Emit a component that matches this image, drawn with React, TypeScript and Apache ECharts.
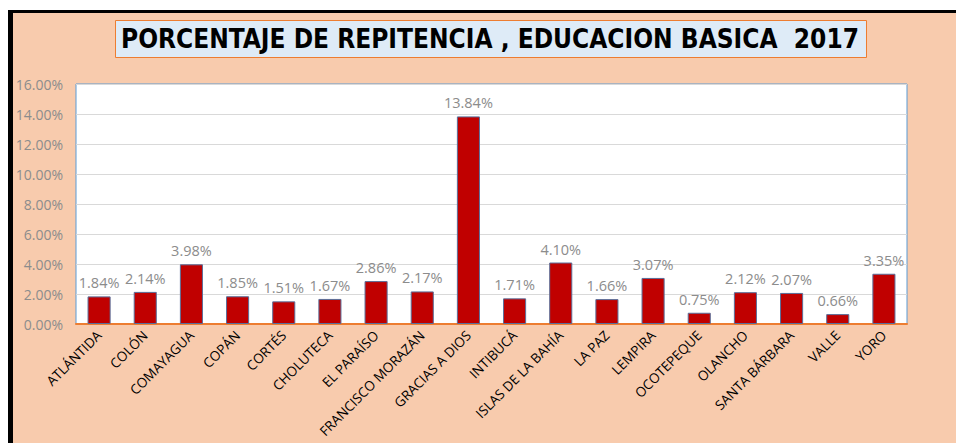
import React, { useEffect, useRef } from "react";
import * as echarts from "echarts";

const categories = [
  "ATLÁNTIDA", "COLÓN", "COMAYAGUA", "COPÁN", "CORTÉS", "CHOLUTECA",
  "EL PARAÍSO", "FRANCISCO MORAZÁN", "GRACIAS A DIOS", "INTIBUCÁ",
  "ISLAS DE LA BAHÍA", "LA PAZ", "LEMPIRA", "OCOTEPEQUE", "OLANCHO",
  "SANTA BÁRBARA", "VALLE", "YORO",
];
const repitencia = [
  1.84, 2.14, 3.98, 1.85, 1.51, 1.67, 2.86, 2.17, 13.84, 1.71, 4.1, 1.66,
  3.07, 0.75, 2.12, 2.07, 0.66, 3.35,
];
const titleText = "PORCENTAJE DE REPITENCIA , EDUCACION BASICA  2017";

export default function App() {
  const ref = useRef<HTMLDivElement>(null);
  useEffect(() => {
    if (!ref.current) return;
    const chart = echarts.init(ref.current, undefined, { renderer: "svg" });
    chart.setOption({
      animation: false,
      backgroundColor: "#f8cbad",
      graphic: [
        { type: "rect", shape: { x: 0, y: 0, width: 956, height: 10 }, style: { fill: "#ffffff" }, silent: true },
        { type: "rect", shape: { x: 0, y: 0, width: 8, height: 443 }, style: { fill: "#ffffff" }, silent: true },
        { type: "rect", shape: { x: 8, y: 10, width: 948, height: 3 }, style: { fill: "#000000" }, silent: true },
        { type: "rect", shape: { x: 8, y: 10, width: 5, height: 433 }, style: { fill: "#000000" }, silent: true },
        {
          type: "rect",
          shape: { x: 115.5, y: 20.5, width: 751, height: 37 },
          style: { fill: "#deebf7", stroke: "#ed7d31", lineWidth: 1 },
          silent: true,
        },
        {
          type: "text",
          x: 490,
          y: 39,
          style: {
            text: titleText,
            fill: "#000000",
            font: "bold 26px 'Liberation Sans Narrow', 'DejaVu Sans Condensed', sans-serif",
            align: "center",
            verticalAlign: "middle",
          },
          silent: true,
        },
      ],
      grid: {
        left: 76,
        right: 49,
        top: 84,
        bottom: 119,
        show: true,
        backgroundColor: "#ffffff",
        borderColor: "#5b9bd5",
        borderWidth: 1,
      },
      xAxis: {
        type: "category",
        data: categories,
        axisLine: { lineStyle: { color: "#ed7d31", width: 2 } },
        axisTick: { show: false },
        axisLabel: {
          rotate: 45,
          interval: 0,
          color: "#000000",
          fontSize: 13.5,
          fontFamily: "'Open Sans', sans-serif",
          margin: 9,
        },
      },
      yAxis: {
        type: "value",
        min: 0,
        max: 16,
        interval: 2,
        axisLine: { show: false },
        axisTick: { show: false },
        splitLine: { lineStyle: { color: "#d9d9d9", width: 1 } },
        axisLabel: {
          formatter: (v: number) => v.toFixed(2) + "%",
          color: "#8c8c8c",
          fontSize: 14,
          fontFamily: "'Open Sans', sans-serif",
          margin: 13,
        },
      },
      series: [
        {
          type: "bar",
          data: repitencia,
          barWidth: "50%",
          itemStyle: { color: "#c00000", borderColor: "#5a6f9a", borderWidth: 1 },
          label: {
            show: true,
            position: "top",
            distance: 6,
            formatter: (p: any) => p.value.toFixed(2) + "%",
            color: "#8c8c8c",
            fontSize: 14.5,
            fontFamily: "'Open Sans', sans-serif",
          },
        },
      ],
    });
    return () => chart.dispose();
  }, []);
  return (
    <div
      ref={ref}
      style={{ position: "fixed", left: 0, top: 0, width: 956, height: 443 }}
    />
  );
}
